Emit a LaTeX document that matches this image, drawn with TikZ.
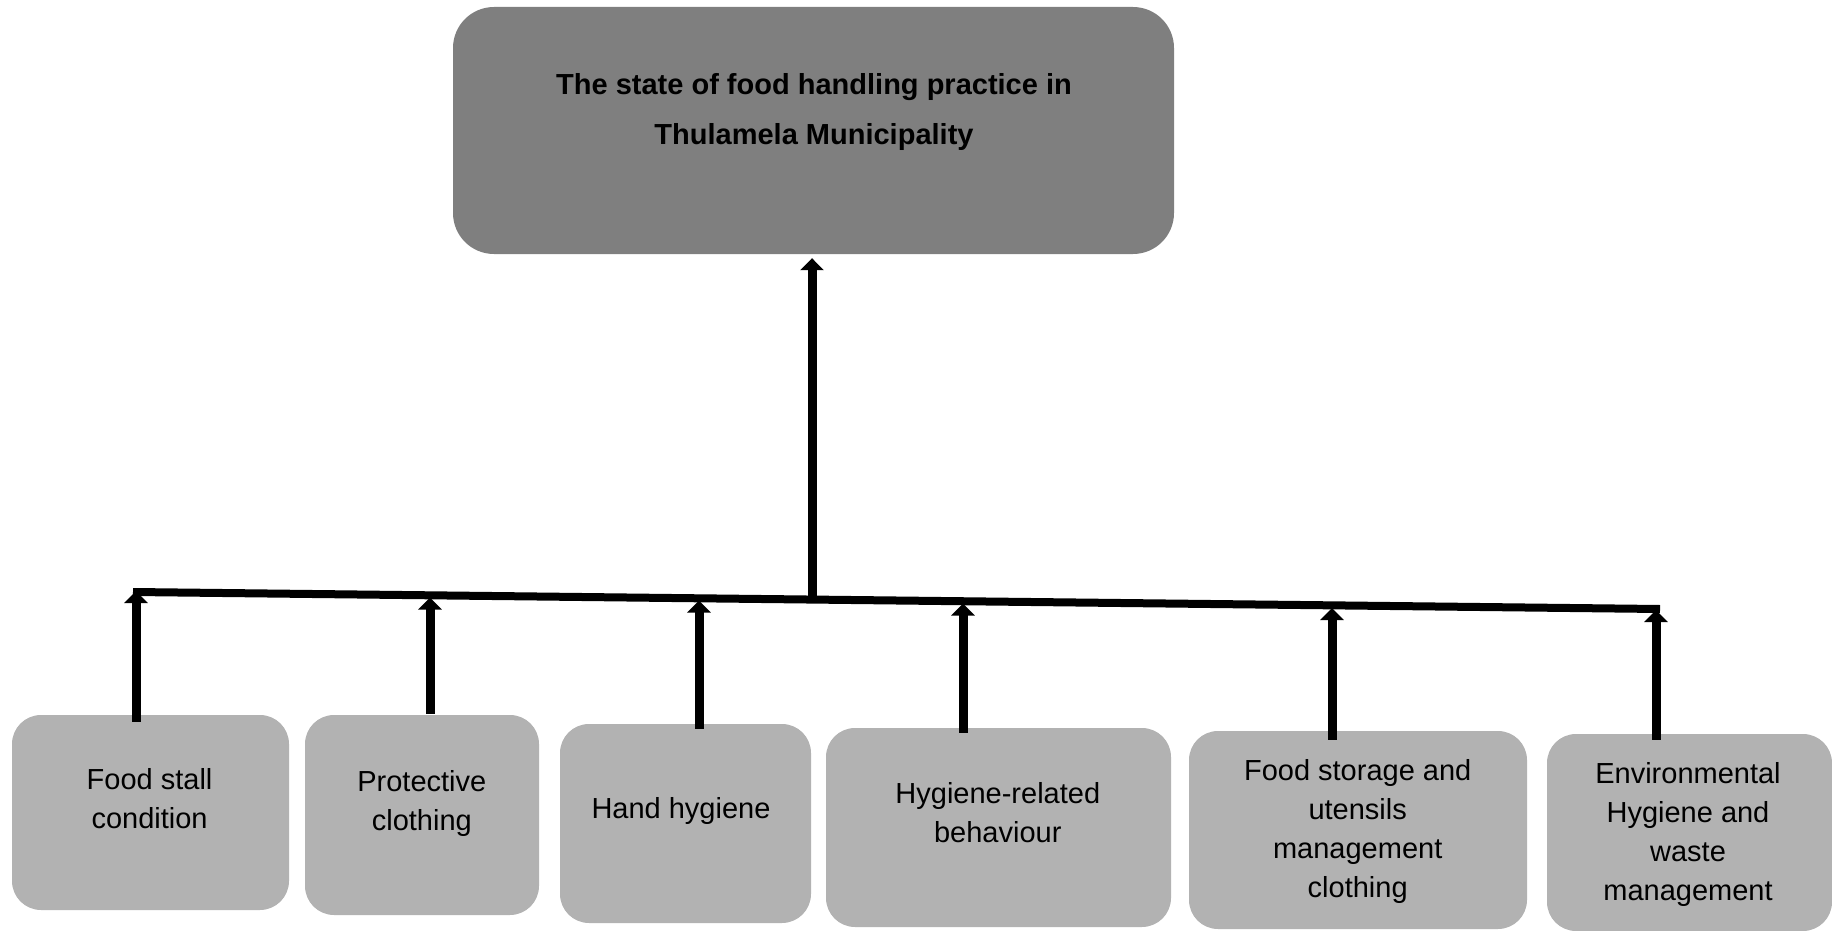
\documentclass[tikz,border=0pt]{standalone}
\usepackage{fontspec}
\setmainfont{Liberation Sans}
\usetikzlibrary{arrows.meta,calc}
\definecolor{headgray}{HTML}{7F7F7F}
\definecolor{itemgray}{HTML}{B2B2B2}
\begin{document}
\begin{tikzpicture}[x=1pt,y=-1pt,
  headbox/.style={rectangle,rounded corners=41pt,fill=headgray,draw=none,inner sep=0pt},
  itembox/.style={rectangle,rounded corners=29pt,fill=itemgray,draw=none,inner sep=0pt},
  lbl/.style={align=center,inner sep=0pt,font=\fontsize{29}{39}\selectfont},
  ttl/.style={align=center,inner sep=0pt,font=\fontsize{29}{50}\selectfont\bfseries},
  arr/.style={line width=9pt,-{Triangle[width=23pt,length=12pt]}},
  barline/.style={line width=8pt,line cap=butt}]
\useasboundingbox (0,0) rectangle (1832,931);

% main box
\node[headbox,minimum width=721pt,minimum height=247pt] (top) at (813.5,130.5) {};
\node[ttl] (ttltext) at (814,112) {The state of food handling practice in\\Thulamela Municipality};

% factor boxes
\node[itembox,minimum width=277pt,minimum height=195pt] (b1) at (150.5,812.5) {};
\node[itembox,minimum width=234pt,minimum height=200pt] (b2) at (422,815) {};
\node[itembox,minimum width=251pt,minimum height=199pt] (b3) at (685.5,823.5) {};
\node[itembox,minimum width=345pt,minimum height=199pt] (b4) at (998.5,827.5) {};
\node[itembox,minimum width=338pt,minimum height=198pt] (b5) at (1358,830) {};
\node[itembox,minimum width=285pt,minimum height=197pt] (b6) at (1689.5,832.5) {};

\node[lbl] (l1) at (149.6,798.5) {Food stall\\condition};
\node[lbl] (l2) at (421.8,803) {Protective\\clothing};
\node[lbl] (l3) at (681,811) {Hand hygiene};
\node[lbl] (l4) at (997.8,812.5) {Hygiene-related\\behaviour};
\node[lbl] (l5) at (1357.7,831.5) {Food storage and\\utensils\\management\\clothing};
\node[lbl] (l6) at (1688,834.5) {Environmental\\Hygiene and\\waste\\management};

% collecting bar and its junction points
\coordinate (barL) at (133,592);
\coordinate (barR) at (1660,609);
\coordinate (j1) at (136,591);
\coordinate (j2) at (430,597.5);
\coordinate (j3) at (699,600.5);
\coordinate (j4) at (963,603.5);
\coordinate (j5) at (1332,608);
\coordinate (j6) at (1656,610);
\coordinate (jt) at (812,600);

\draw[barline] (barL) -- (barR);

\draw[arr] ($(b1.north -| j1)+(0,7)$) -- (j1);
\draw[arr] ($(b2.north -| j2)+(0,-1)$) -- (j2);
\draw[arr] ($(b3.north -| j3)+(0,5)$) -- (j3);
\draw[arr] ($(b4.north -| j4)+(0,5)$) -- (j4);
\draw[arr] ($(b5.north -| j5)+(0,9)$) -- (j5);
\draw[arr] ($(b6.north -| j6)+(0,6)$) -- (j6);

\draw[arr] (jt) -- ($(top.south -| jt)+(0,4)$);
\end{tikzpicture}
\end{document}
